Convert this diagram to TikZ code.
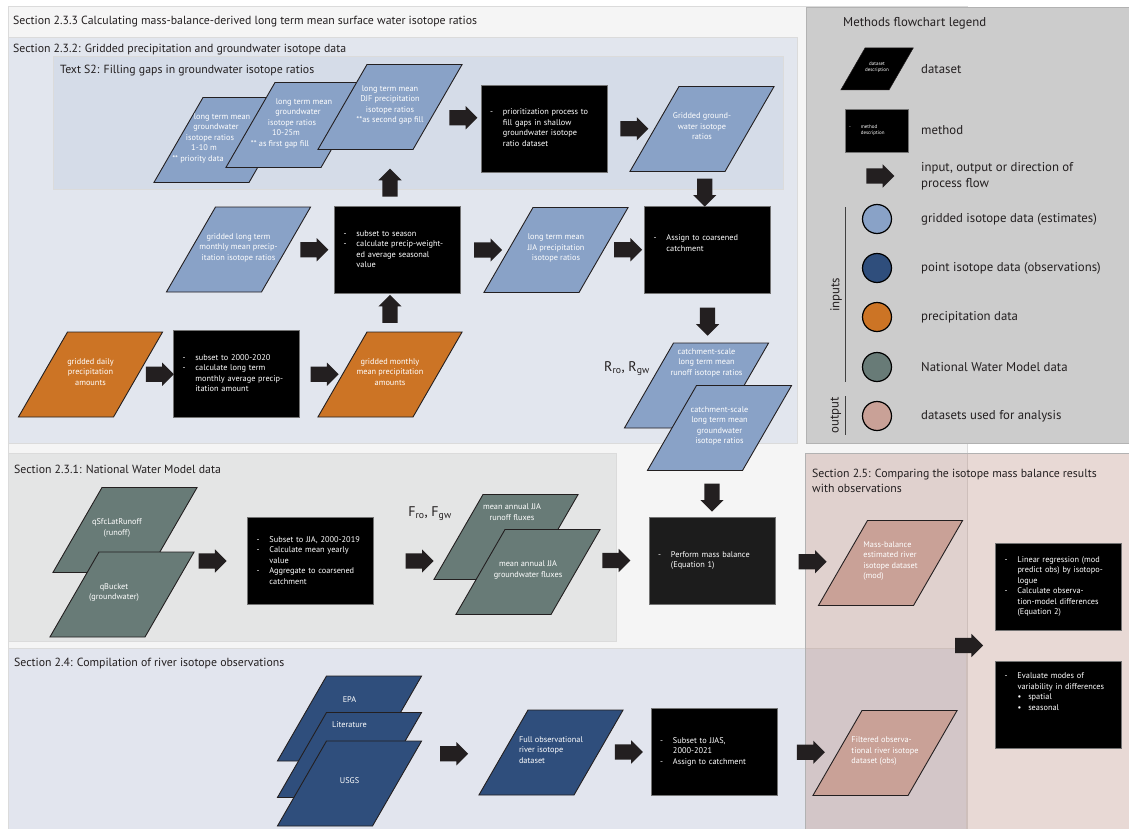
\documentclass[tikz,border=0pt]{standalone}
\usepackage{fontspec}
\setmainfont{PT Sans}
\usepackage{tikz}
\usetikzlibrary{shapes.geometric, shapes.arrows, positioning, calc}
\usepackage{xcolor}
\definecolor{isoblue}{HTML}{89A2C7}
\definecolor{obsblue}{HTML}{2F4E7C}
\definecolor{precorange}{HTML}{CC7425}
\definecolor{nwmgreen}{HTML}{687B77}
\definecolor{outpink}{HTML}{C9A197}
\definecolor{flowgray}{HTML}{231F20}
\definecolor{massgray}{HTML}{1C1C1C}
\definecolor{bgouter}{HTML}{F5F5F5}
\definecolor{bggrid}{HTML}{E2E6EE}
\definecolor{bggaps}{HTML}{D5DCE8}
\definecolor{bgnwm}{HTML}{E4E5E5}
\definecolor{bgobs}{HTML}{E2E5EE}
\definecolor{bglegend}{HTML}{CCCCCC}
\definecolor{bgcompare}{HTML}{AD7769}

\newcommand{\titlefont}{\fontsize{11.8}{15.5}\selectfont}
\newcommand{\keyfont}{\fontsize{12.8}{15.5}\selectfont}
\newcommand{\boxfont}{\fontsize{8.3}{10.5}\selectfont}
\newcommand{\tinyfont}{\fontsize{5}{6}\selectfont}
% text inside a parallelogram (optional arg shifts it sideways by half its value)
\newcommand{\ptext}[2][0pt]{\makebox[0pt]{\hspace*{#1}\begin{tabular}{@{}c@{}}#2\end{tabular}}}
\newcommand{\pltext}[1]{\makebox[0pt]{\begin{tabular}{@{}l@{}}#1\end{tabular}}}
% one line moved sideways by half of #1, to follow a slanted edge
\newcommand{\offl}[2]{\makebox[0pt]{\hspace*{#1}#2}}
\newenvironment{steps}{\begin{tabular}{@{}l@{\hspace{10pt}}l@{}}}{\end{tabular}}

\begin{document}
\begin{tikzpicture}[x=1pt, y=-1pt,
  data/.style={trapezium, trapezium left angle=60, trapezium right angle=120,
               inner xsep=23pt, inner ysep=0pt, text height=42.5pt, text depth=42.5pt,
               draw=flowgray, line width=0.9pt, text=white, font=\boxfont},
  method/.style={rectangle, fill=black, draw=black!55, line width=0.5pt,
                 minimum width=126pt, minimum height=87pt, text width=108pt,
                 inner xsep=9pt, align=left, text=white, font=\boxfont},
  flow/.style={single arrow, fill=flowgray, minimum height=28pt,
               inner xsep=0pt, inner ysep=7.5pt, single arrow head extend=4pt},
  panel/.style={draw=black!14, line width=0.6pt},
  sectitle/.style={anchor=west, font=\titlefont, text=flowgray, inner sep=0pt},
  swatch/.style={circle, draw=black, line width=1.2pt, minimum size=29pt, inner sep=0pt},
  keylabel/.style={anchor=west, font=\keyfont, text=flowgray, inner sep=0pt},
  symlabel/.style={font=\fontsize{14}{16}\selectfont, text=flowgray, inner sep=0pt}
]
  \path[use as bounding box] (0,0) rectangle (1129,829);

  % section panels
  \filldraw[panel, fill=bgouter] (8,6) rectangle (967,829);
  \filldraw[panel, fill=bggrid] (8,37) rectangle (797,443);
  \filldraw[panel, fill=bggaps] (53,56) rectangle (783,189);
  \filldraw[panel, fill=bgnwm] (8,453) rectangle (616,641);
  \filldraw[panel, fill=bgobs] (8,648) rectangle (966,829);
  \filldraw[panel, draw=black!30, fill=bglegend] (806,7) rectangle (1129,443);
  \filldraw[panel, draw=black!30, fill=bgcompare, fill opacity=0.28] (805,453) rectangle (1129,829);

  \node[sectitle] (t233) at (13,22) {Section 2.3.3 Calculating mass-balance-derived long term mean surface water isotope ratios};
  \node[sectitle] (t232) at (13,50) {Section 2.3.2: Gridded precipitation and groundwater isotope data};
  \node[sectitle] (ts2) at (60,71) {Text S2: Filling gaps in groundwater isotope ratios};
  \node[sectitle] (t231) at (14,469) {Section 2.3.1: National Water Model data};
  \node[sectitle] (t24) at (14,663) {Section 2.4: Compilation of river isotope observations};
  \node[sectitle, align=left] (t25) at (812,481) {Section 2.5: Comparing the isotope mass balance results\\with observations};

  % Text S2: filling gaps
  \node[data, fill=isoblue] (gw1) at (226,140) {\ptext{\offl{-8pt}{long term mean}\\\offl{-20pt}{groundwater}\\\offl{-32pt}{isotope ratios}\\\offl{-44pt}{1-10 m}\\\offl{-56pt}{** priority data}}};
  \node[data, fill=isoblue] (gw2) at (298,125) {\ptext{\offl{12pt}{long term mean}\\\offl{0pt}{groundwater}\\\offl{-12pt}{isotope ratios}\\\offl{-24pt}{10-25m}\\\offl{-36pt}{** as first gap fill}}};
  \node[data, fill=isoblue] (djf) at (390,107) {\ptext{long term mean\\DJF precipitation\\isotope ratios\\{}**as second gap fill}};
  \node[method] (prio) at (544,128.5) {\begin{steps} - & prioritization process to\\ & fill gaps in shallow\\ & groundwater isotope\\ & ratio dataset\end{steps}};
  \node[data, fill=isoblue] (gwgrid) at (702,129) {\ptext{Gridded ground-\\water isotope\\ratios}};

  % Section 2.3.2: precipitation isotopes
  \node[data, fill=isoblue] (gridmon) at (238.5,249.5) {\ptext{gridded long term\\monthly mean precip-\\itation isotope ratios}};
  \node[method] (season) at (397.5,250) {\begin{steps} - & subset to season\\ - & calculate precip-weight-\\ & ed average seasonal\\ & value\end{steps}};
  \node[data, fill=isoblue] (jjaprec) at (556,250) {\ptext{long term mean\\JJA precipitation\\isotope ratios}};
  \node[method] (assign) at (707.5,249.5) {\begin{steps} - & Assign to coarsened\\ & catchment\\[11pt]\end{steps}};
  \node[data, fill=precorange] (precday) at (90.5,374.5) {\ptext{gridded daily\\precipitation\\amounts}};
  \node[method] (precsub) at (236.5,374) {\begin{steps} - & subset to 2000-2020\\ - & calculate long term\\ & monthly average precip-\\ & itation amount\end{steps}};
  \node[data, fill=precorange] (precmon) at (390,374.5) {\ptext{gridded monthly\\mean precipitation\\amounts}};
  \node[symlabel] (rlabel) at (627,369) {R\textsubscript{ro}, R\textsubscript{gw}};
  \node[data, fill=isoblue] (rro) at (696.5,385.5) {\ptext[20pt]{catchment-scale\\long term mean\\runoff isotope ratios\\[42pt]}};
  \node[data, fill=isoblue] (rgw) at (719.5,428) {\ptext{catchment-scale\\long term mean\\groundwater\\isotope ratios}};

  % Section 2.3.1: National Water Model
  \node[data, fill=nwmgreen] (qsfc) at (125,530) {\ptext[-16pt]{qSfcLatRunoff\\(runoff)}};
  \node[data, fill=nwmgreen] (qbuck) at (122,594.5) {\ptext[-16pt]{qBucket\\(groundwater)}};
  \node[method] (nwmsub) at (310.5,561) {\begin{steps} - & Subset to JJA, 2000-2019\\ - & Calculate mean yearly\\ & value\\ - & Aggregate to coarsened\\ & catchment\end{steps}};
  \node[symlabel] (flabel) at (430,514) {F\textsubscript{ro}, F\textsubscript{gw}};
  \node[data, fill=nwmgreen] (fro) at (506,537) {\ptext[12pt]{mean annual JJA\\runoff fluxes\\[44pt]}};
  \node[data, fill=nwmgreen] (fgw) at (528,572) {\ptext{mean annual JJA\\groundwater fluxes}};
  \node[method, fill=massgray] (massbal) at (712,560.5) {\begin{steps} - & Perform mass balance\\ & (Equation 1)\end{steps}};

  % Section 2.4: river observations
  \node[data, fill=obsblue] (epa) at (349.5,718.5) {\ptext{EPA\\[32pt]}};
  \node[data, fill=obsblue] (lit) at (349.5,755) {\ptext{Literature\\[56pt]}};
  \node[data, fill=obsblue] (usgs) at (349.5,783.5) {\ptext{USGS}};
  \node[data, fill=obsblue] (fullobs) at (551,752.5) {\pltext{Full observational\\river isotope\\dataset}};
  \node[method] (jjas) at (714,751.5) {\begin{steps} - & Subset to JJAS,\\ & 2000-2021\\ - & Assign to catchment\end{steps}};

  % Section 2.5: comparison
  \node[data, fill=outpink] (mod) at (890.5,563) {\pltext{Mass-balance\\estimated river\\isotope dataset\\(mod)}};
  \node[data, fill=outpink] (filt) at (885,753) {\pltext{Filtered observa-\\tional river isotope\\dataset (obs)}};
  \node[method] (lin) at (1058.5,586.5) {\begin{steps} - & Linear regression (mod\\ & predict obs) by isotopo-\\ & logue\\ - & Calculate observa-\\ & tion-model differences\\ & (Equation 2)\end{steps}};
  \node[method] (eval) at (1058.5,704.5) {\begin{steps} - & Evaluate modes of\\ & variability in differences\\ & \textbullet\hspace{7pt}spatial\\ & \textbullet\hspace{7pt}seasonal\\[24pt]\end{steps}};

  % process flow arrows
  \node[flow] (f1) at ($(djf.east)!.5!(prio.west)$) {};
  \node[flow] (f2) at ($(prio.east)!.5!(gwgrid.west)$) {};
  \node[flow, rotate=-90] (f3) at ($(gwgrid.south)!.5!(assign.north)$) {};
  \node[flow] (f4) at ($(gridmon.east)!.5!(season.west)$) {};
  \node[flow] (f5) at ($(season.east)!.5!(jjaprec.west)$) {};
  \node[flow] (f6) at ($(jjaprec.east)!.5!(assign.west)$) {};
  \node[flow, rotate=90] (f7) at ($(djf.south)!.65!(djf.south |- season.north)$) {};
  \node[flow, rotate=90] (f8) at ($(precmon.north)!.5!(precmon.north |- season.south)$) {};
  \node[flow] (f9) at ($(precday.east)!.5!(precsub.west)$) {};
  \node[flow] (f10) at ($(precsub.east)!.5!(precmon.west)$) {};
  \node[flow, rotate=-90] (f11) at ($(assign.south)!.5!(assign.south |- rro.north)$) {};
  \node[flow] (f12) at ($(nwmsub.west)!.5!(nwmsub.west -| qbuck.east)$) {};
  \node[flow] (f13) at ($(nwmsub.east)!.5!(nwmsub.east -| fro.west)$) {};
  \node[flow] (f14) at ($(massbal.west)!.5!(massbal.west -| fgw.east)$) {};
  \node[flow, rotate=-90] (f15) at ($(massbal.north)!.5!(massbal.north |- rgw.south)$) {};
  \node[flow] (f16) at ($(massbal.east)!.5!(mod.west)$) {};
  \node[flow] (f17) at ($(lit.east)!.5!(fullobs.west)$) {};
  \node[flow] (f18) at ($(fullobs.east)!.5!(jjas.west)$) {};
  \node[flow] (f19) at ($(jjas.east)!.5!(filt.west)$) {};
  \node[flow] (f20) at ($(lin.south west)!.5!(eval.north west)+(-30,0)$) {};

  % legend
  \node[keylabel] (legtitle) at (843,23) {Methods flowchart legend};
  \node[data, fill=black, inner xsep=12pt, text height=21pt, text depth=21pt, line width=0.5pt,
        font=\tinyfont] (ldata) at (877,69) {\ptext{dataset\\description}};
  \node[method, minimum width=63pt, minimum height=43pt, text width=55pt, inner xsep=4pt,
        font=\tinyfont] (lmethod) at (876.5,130.5) {\begin{steps} - & method\\ & description\end{steps}};
  \node[flow] (lflow) at (876.5,176) {};
  \node[swatch, fill=isoblue] (lsiso) at (877,219) {};
  \node[swatch, fill=obsblue] (lsobs) at (877,268) {};
  \node[swatch, fill=precorange] (lsprec) at (877,317) {};
  \node[swatch, fill=nwmgreen] (lsnwm) at (877,367) {};
  \node[swatch, fill=outpink] (lsout) at (877,416) {};
  \node[keylabel] (ltdata) at (921,69) {dataset};
  \node[keylabel] (ltmethod) at (921,130) {method};
  \node[keylabel, align=left] (ltflow) at (921,176) {input, output or direction of\\process flow};
  \node[keylabel] (ltiso) at (921,219) {gridded isotope data (estimates)};
  \node[keylabel] (ltobs) at (921,268) {point isotope data (observations)};
  \node[keylabel] (ltprec) at (921,317) {precipitation data};
  \node[keylabel] (ltnwm) at (921,367) {National Water Model data};
  \node[keylabel] (ltout) at (921,416) {datasets used for analysis};
  \draw[black!75, line width=0.7pt] (845,207) -- (845,382);
  \draw[black!75, line width=0.7pt] (845,396) -- (845,435);
  \node[keylabel, anchor=center, rotate=90] (ltinputs) at (836,295) {inputs};
  \node[keylabel, anchor=center, rotate=90] (ltoutput) at (836,415) {output};
\end{tikzpicture}
\end{document}
